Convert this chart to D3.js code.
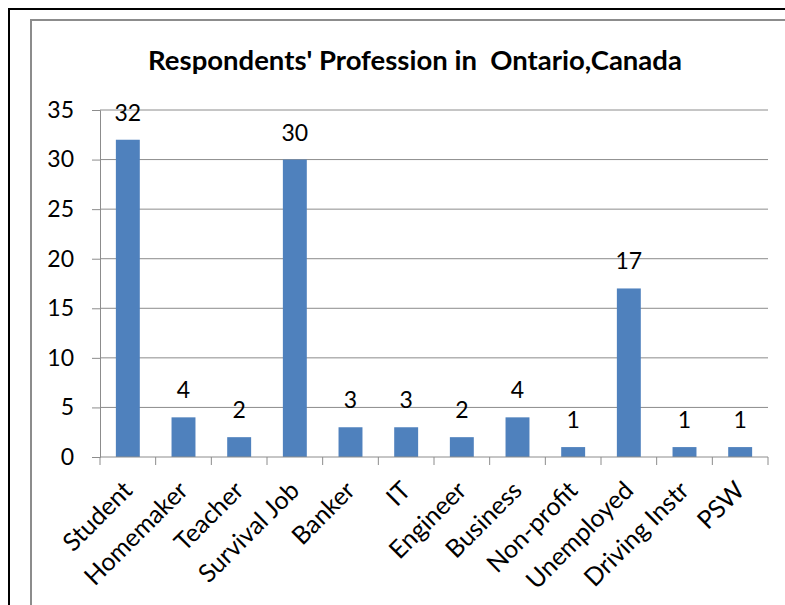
<!DOCTYPE html>
<html>
<head>
<meta charset="utf-8">
<script src="https://cdn.jsdelivr.net/npm/d3@7"></script>
<style>
  body { margin: 0; background: #fff; }
  text { font-family: Lato, "Open Sans", sans-serif; fill: #000; }
</style>
</head>
<body>
<div class="chart"></div>
<script>
var categories = ['Student', 'Homemaker', 'Teacher', 'Survival Job', 'Banker', 'IT',
    'Engineer', 'Business', 'Non-profit', 'Unemployed', 'Driving Instr', 'PSW'];
var counts = [32, 4, 2, 30, 3, 3, 2, 4, 1, 17, 1, 1];
var yTicks = [0, 5, 10, 15, 20, 25, 30, 35];
var title = "Respondents' Profession in  Ontario,Canada";

var data = categories.map((c, i) => ({ name: c, value: counts[i] }));

var width = 785, height = 605;
var plot = { left: 100, right: 768, top: 110, bottom: 457 };

var svg = d3.select('.chart')
    .append('svg')
    .attr('width', width)
    .attr('height', height);

// frames (bottom edge is cut off in the picture)
svg.append('rect')
    .attr('x', 9).attr('y', 9)
    .attr('width', 900).attr('height', 700)
    .attr('fill', 'none')
    .attr('stroke', '#000')
    .attr('stroke-width', 2);
svg.append('rect')
    .attr('x', 31).attr('y', 20)
    .attr('width', 900).attr('height', 700)
    .attr('fill', 'none')
    .attr('stroke', '#8c8c8c')
    .attr('stroke-width', 2);

svg.append('text')
    .attr('x', 415)
    .attr('y', 70)
    .attr('text-anchor', 'middle')
    .style('font-size', '27.5px')
    .style('font-weight', 'bold')
    .style('white-space', 'pre')
    .text(title);

/**
 * scales
 */
const yScale = d3.scaleLinear()
    .domain([0, 35])
    .range([plot.bottom, plot.top]);

const xScale = d3.scaleBand()
    .domain(categories)
    .range([plot.left, plot.right])
    .paddingInner(0.57)
    .paddingOuter(0.285);

// gridlines
svg.append('g')
    .selectAll('line')
    .data(yTicks.filter(d => d > 0))
    .join('line')
    .attr('x1', plot.left)
    .attr('x2', plot.right)
    .attr('y1', d => yScale(d))
    .attr('y2', d => yScale(d))
    .attr('stroke', '#8c8c8c')
    .attr('stroke-width', 1);

// y axis
const yAxis = svg.append('g')
    .attr('transform', `translate(${plot.left}, 0)`)
    .call(d3.axisLeft(yScale).tickValues(yTicks).tickSize(8).tickPadding(18));
yAxis.select('.domain').attr('stroke', '#8c8c8c');
yAxis.selectAll('.tick line').attr('stroke', '#8c8c8c');
yAxis.selectAll('.tick text')
    .style('font-size', '23px')
    .attr('font-family', null)
    .attr('fill', '#000');

// bars
svg.append('g')
    .selectAll('rect')
    .data(data)
    .join('rect')
    .attr('x', d => xScale(d.name))
    .attr('width', xScale.bandwidth())
    .attr('y', d => yScale(d.value))
    .attr('height', d => yScale(0) - yScale(d.value))
    .attr('fill', '#4f81bd');

// value labels
svg.append('g')
    .selectAll('text')
    .data(data)
    .join('text')
    .attr('x', d => xScale(d.name) + xScale.bandwidth() / 2)
    .attr('y', d => yScale(d.value) - 19)
    .attr('text-anchor', 'middle')
    .style('font-size', '23px')
    .text(d => d.value);

// x axis line + boundary ticks
var step = xScale.step();
svg.append('line')
    .attr('x1', plot.left).attr('x2', plot.right)
    .attr('y1', plot.bottom).attr('y2', plot.bottom)
    .attr('stroke', '#8c8c8c');
svg.append('g')
    .selectAll('line')
    .data(d3.range(categories.length + 1))
    .join('line')
    .attr('x1', i => plot.left + i * step)
    .attr('x2', i => plot.left + i * step)
    .attr('y1', plot.bottom)
    .attr('y2', plot.bottom + 8)
    .attr('stroke', '#8c8c8c');

// category labels, rotated
svg.append('g')
    .selectAll('text')
    .data(categories)
    .join('text')
    .attr('text-anchor', 'end')
    .attr('transform', d => `translate(${xScale(d) + xScale.bandwidth() / 2 + 6}, 492) rotate(-45)`)
    .style('font-size', '25px')
    .text(d => d);
</script>
</body>
</html>
